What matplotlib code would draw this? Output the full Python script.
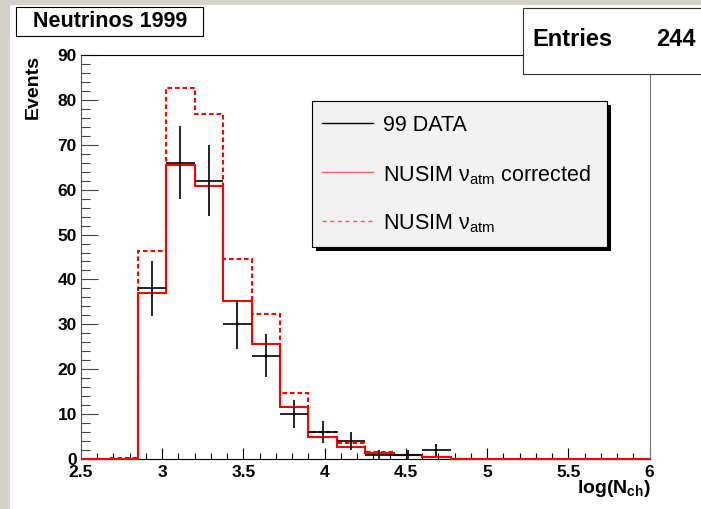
import numpy as np
import matplotlib.pyplot as plt
from matplotlib.patches import Rectangle
from matplotlib.lines import Line2D
from matplotlib.ticker import MultipleLocator

plt.rcParams['font.family'] = ['Liberation Sans', 'DejaVu Sans']
plt.rcParams['mathtext.fontset'] = 'custom'
plt.rcParams['mathtext.rm'] = 'Liberation Sans'
plt.rcParams['mathtext.it'] = 'Liberation Sans:italic'
plt.rcParams['mathtext.bf'] = 'Liberation Sans:bold'

# histogram binning: 20 bins from 2.5 to 6
x_min, x_max, n_bins = 2.5, 6.0, 20
edges = np.linspace(x_min, x_max, n_bins + 1)
centers = 0.5 * (edges[:-1] + edges[1:])
half_w = 0.5 * (edges[1] - edges[0])

# NUSIM nu_atm corrected (solid red)
nusim_corr = [0, 0.1, 36.9, 65.6, 60.9, 35.3, 25.6, 11.6, 5.0, 2.7,
              1.4, 0.8, 0.4, 0, 0, 0, 0, 0, 0, 0]
# NUSIM nu_atm (dashed red)
nusim_raw = [0, 0.3, 46.4, 82.7, 76.8, 44.5, 32.4, 14.6, 6.0, 3.5,
             1.6, 0.9, 0.5, 0, 0, 0, 0, 0, 0, 0]
# 99 DATA, non empty bins 3..13
data_bins = [2, 3, 4, 5, 6, 7, 8, 9, 10, 11, 12]
data_counts = [38, 66, 62, 30, 23, 10, 6, 4, 1, 1, 2]
data_err = [6.2, 8.1, 7.9, 5.5, 4.8, 3.2, 2.4, 2.0, 1.0, 1.0, 1.4]

W, H = 701, 509
fig = plt.figure(figsize=(W / 100, H / 100), dpi=100, facecolor='#d5d2cd')
fig.patches.append(Rectangle((10 / W, 0), 1, 1 - 5 / H, transform=fig.transFigure,
                             facecolor='white', edgecolor='none', zorder=-10))

ax = fig.add_axes([81 / W, 50 / H, (649.5 - 81) / W, (459 - 55) / H])
ax.set_xlim(x_min, x_max)
ax.set_ylim(0, 90)

ax.stairs(nusim_raw, edges, color='red', lw=1.5, linestyle=(0, (2.2, 1.4)),
          clip_on=False, zorder=4)
ax.stairs(nusim_corr, edges, color='red', lw=1.5, clip_on=False, zorder=5)
ax.errorbar(centers[data_bins], data_counts, xerr=half_w, yerr=data_err,
            fmt='none', ecolor='black', elinewidth=1.2, capsize=0, zorder=6)

ax.xaxis.set_major_locator(MultipleLocator(0.5))
ax.xaxis.set_minor_locator(MultipleLocator(0.1))
ax.yaxis.set_major_locator(MultipleLocator(10))
ax.yaxis.set_minor_locator(MultipleLocator(2))
ax.tick_params(axis='x', which='both', direction='in', top=False, labelsize=12.5, pad=4)
ax.tick_params(axis='x', which='major', length=8, width=0.8)
ax.tick_params(axis='x', which='minor', length=4, width=0.8)
ax.tick_params(axis='y', which='both', direction='in', right=False, labelsize=12.5, pad=3)
ax.tick_params(axis='y', which='major', length=12.5, width=0.8, color='#444444')
ax.tick_params(axis='y', which='minor', length=6.5, width=0.8, color='#444444')
ax.xaxis.set_major_formatter(plt.FuncFormatter(lambda v, p: f'{v:g}'))
for lab in ax.get_xticklabels() + ax.get_yticklabels():
    lab.set_fontweight('bold')
ax.spines['left'].set_color('#555555')
ax.spines['right'].set_color('#777777')
for s in ax.spines.values():
    s.set_linewidth(0.8)

fig.text(33 / W, 1 - 55 / H, 'Events', rotation=90, ha='center', va='top',
         fontsize=14, fontweight='bold')
fig.text(651 / W, 1 - 478 / H, r'log(N$_{\mathbf{ch}}$)', ha='right', va='top',
         fontsize=14, fontweight='bold')

# title box
fig.patches.append(Rectangle((16 / W, 1 - 36 / H), (203 - 16) / W, (36 - 7.3) / H,
                             transform=fig.transFigure, facecolor='white',
                             edgecolor='black', lw=0.8, zorder=5))
fig.text(110 / W, 1 - 21.5 / H, 'Neutrinos 1999', ha='center', va='center',
         fontsize=15.5, fontweight='bold', zorder=6)

# statistics box
fig.patches.append(Rectangle((522.5 / W, 1 - 73.5 / H), (720 - 522.5) / W, (73.5 - 8) / H,
                             transform=fig.transFigure, facecolor='white',
                             edgecolor='#333333', lw=0.8, zorder=5))
fig.text(532.5 / W, 1 - 39 / H, 'Entries', ha='left', va='center',
         fontsize=17, fontweight='bold', zorder=6)
fig.text(696 / W, 1 - 39 / H, '244', ha='right', va='center',
         fontsize=17, fontweight='bold', zorder=6)

# legend box with shadow
lx0, lx1, ly0, ly1 = 312, 607, 101, 247
fig.patches.append(Rectangle(((lx0 + 4) / W, 1 - (ly1 + 4) / H), (lx1 - lx0) / W,
                             (ly1 - ly0) / H, transform=fig.transFigure,
                             facecolor='black', edgecolor='none', zorder=5))
fig.patches.append(Rectangle((lx0 / W, 1 - ly1 / H), (lx1 - lx0) / W, (ly1 - ly0) / H,
                             transform=fig.transFigure, facecolor='#f2f2f2',
                             edgecolor='black', lw=0.8, zorder=6))
entries = [('99 DATA', 'black', '-', 123),
           (r'NUSIM $\mathrm{\nu}_{\mathrm{atm}}$ corrected', '#f06060', '-', 172),
           (r'NUSIM $\mathrm{\nu}_{\mathrm{atm}}$', '#f06060', (0, (3, 2.5)), 221)]
for label, col, ls, yy in entries:
    fig.lines.append(Line2D([322 / W, 373 / W], [1 - yy / H, 1 - yy / H],
                            transform=fig.transFigure, color=col, lw=1.0,
                            linestyle=ls, zorder=7))
    fig.text(383 / W, 1 - yy / H, label, ha='left', va='center_baseline',
             fontsize=15.5, zorder=7)

fig.savefig('out.png', dpi=100, facecolor=fig.get_facecolor())
